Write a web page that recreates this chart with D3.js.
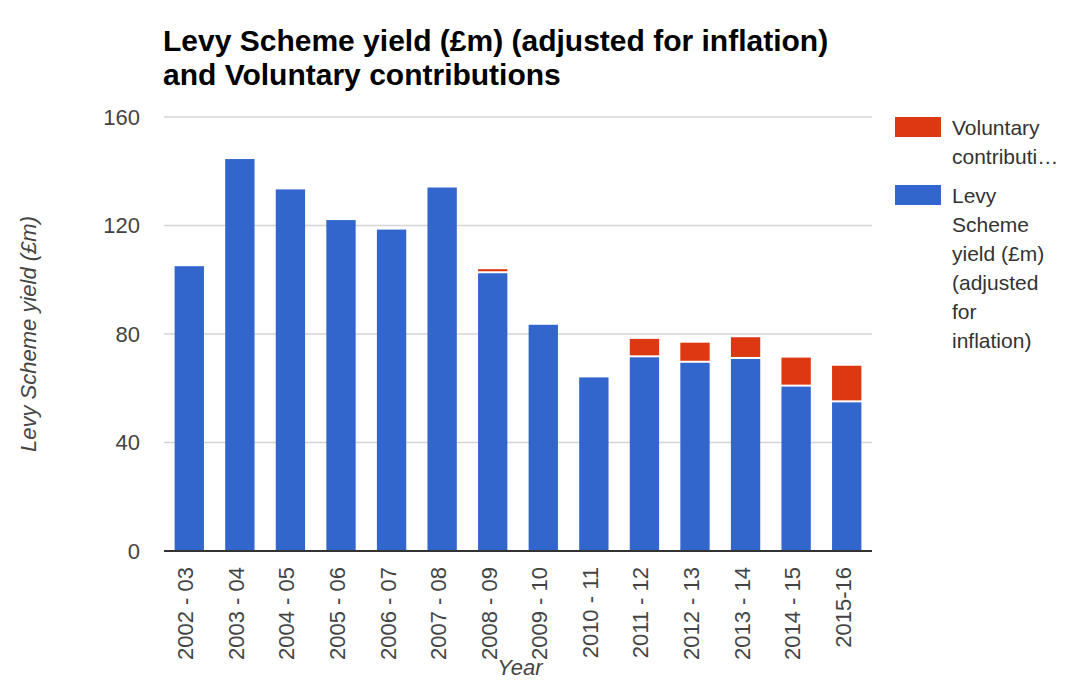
<!DOCTYPE html>
<html>
<head>
<meta charset="utf-8">
<script src="https://cdnjs.cloudflare.com/ajax/libs/d3/7.8.5/d3.min.js"></script>
<style>
  body { margin: 0; background: #fff; }
  svg { display: block; font-family: Arial, "Liberation Sans", sans-serif; }
</style>
</head>
<body>
<div id="chart"></div>
<script>
// data
var years = ["2002 - 03", "2003 - 04", "2004 - 05", "2005 - 06", "2006 - 07", "2007 - 08", "2008 - 09",
             "2009 - 10", "2010 - 11", "2011 - 12", "2012 - 13", "2013 - 14", "2014 - 15", "2015-16"];
var levyYield = [105, 144.5, 133.3, 122, 118.5, 134, 102.4, 83.4, 64, 71.4, 69.4, 70.8, 60.6, 54.8];
var voluntary = [0, 0, 0, 0, 0, 0, 1.5, 0, 0, 6.8, 7.4, 8, 10.7, 13.5];
var yTicks = [0, 40, 80, 120, 160];

var titleLines = ["Levy Scheme yield (£m) (adjusted for inflation)", "and Voluntary contributions"];
var legendItems = [
    { color: "#dc3912", lines: ["Voluntary", "contributi\u2026"] },
    { color: "#3366cc", lines: ["Levy", "Scheme", "yield (£m)", "(adjusted", "for", "inflation)"] }
];

var width = 1066, height = 680;
var plot = { left: 164, right: 872, top: 117, bottom: 551 };

var svg = d3.select("#chart").append("svg")
    .attr("width", width)
    .attr("height", height);

var x = d3.scaleBand().domain(years).range([plot.left, plot.right]).paddingInner(0.42).paddingOuter(0.21);
var y = d3.scaleLinear().domain([0, 160]).range([plot.bottom, plot.top]);

// title
svg.append("g").selectAll("text")
    .data(titleLines)
    .join("text")
    .attr("x", 163)
    .attr("y", function(d, i) { return 51 + i * 34; })
    .style("font-size", "30px")
    .style("font-weight", "bold")
    .style("fill", "#000")
    .text(function(d) { return d; });

// gridlines + y tick labels
svg.append("g").selectAll("line")
    .data(yTicks.filter(function(t) { return t > 0; }))
    .join("line")
    .attr("x1", plot.left).attr("x2", plot.right)
    .attr("y1", function(d) { return y(d); })
    .attr("y2", function(d) { return y(d); })
    .style("stroke", "#d4d4d4")
    .style("stroke-width", 1.5);

svg.append("g").selectAll("text")
    .data(yTicks)
    .join("text")
    .attr("x", 140)
    .attr("y", function(d) { return y(d); })
    .attr("dy", "0.36em")
    .attr("text-anchor", "end")
    .style("font-size", "22px")
    .style("fill", "#444")
    .text(function(d) { return d; });

// bars: levy at the bottom, voluntary stacked on top
var bars = svg.append("g");
bars.selectAll("rect.levy")
    .data(years)
    .join("rect")
    .attr("class", "levy")
    .attr("x", function(d) { return x(d); })
    .attr("width", x.bandwidth())
    .attr("y", function(d, i) { return y(levyYield[i]); })
    .attr("height", function(d, i) { return y(0) - y(levyYield[i]); })
    .style("fill", "#3366cc");

bars.selectAll("rect.vol")
    .data(years.filter(function(d, i) { return voluntary[i] > 0; }))
    .join("rect")
    .attr("class", "vol")
    .attr("x", function(d) { return x(d); })
    .attr("width", x.bandwidth())
    .attr("y", function(d) { var i = years.indexOf(d); return y(levyYield[i] + voluntary[i]); })
    .attr("height", function(d) {
        var i = years.indexOf(d);
        return Math.max(1, y(levyYield[i]) - y(levyYield[i] + voluntary[i]) - 2);
    })
    .style("fill", "#dc3912");

// baseline
svg.append("line")
    .attr("x1", plot.left).attr("x2", plot.right)
    .attr("y1", y(0)).attr("y2", y(0))
    .style("stroke", "#333")
    .style("stroke-width", 2);

// x labels, rotated
svg.append("g").selectAll("text")
    .data(years)
    .join("text")
    .attr("transform", function(d) {
        return "translate(" + (x(d) + x.bandwidth() / 2 + 4) + ",567) rotate(-90)";
    })
    .attr("text-anchor", "end")
    .style("font-size", "22px")
    .style("fill", "#444")
    .text(function(d) { return d; });

// axis titles
svg.append("text")
    .attr("x", 520)
    .attr("y", 675)
    .attr("text-anchor", "middle")
    .style("font-size", "22px")
    .style("font-style", "italic")
    .style("fill", "#444")
    .text("Year");

svg.append("text")
    .attr("transform", "translate(36," + ((plot.top + plot.bottom) / 2) + ") rotate(-90)")
    .attr("text-anchor", "middle")
    .style("font-size", "22px")
    .style("font-style", "italic")
    .style("fill", "#444")
    .text("Levy Scheme yield (£m)");

// legend
var legendTop = [117, 185];
var legend = svg.append("g").selectAll("g")
    .data(legendItems)
    .join("g")
    .attr("transform", function(d, i) { return "translate(895," + legendTop[i] + ")"; });

legend.append("rect")
    .attr("width", 46)
    .attr("height", 20)
    .style("fill", function(d) { return d.color; });

legend.selectAll("text")
    .data(function(d) { return d.lines; })
    .join("text")
    .attr("x", 57)
    .attr("y", function(d, i) { return 18 + i * 29; })
    .style("font-size", "21px")
    .style("fill", "#333")
    .text(function(d) { return d; });
</script>
</body>
</html>
